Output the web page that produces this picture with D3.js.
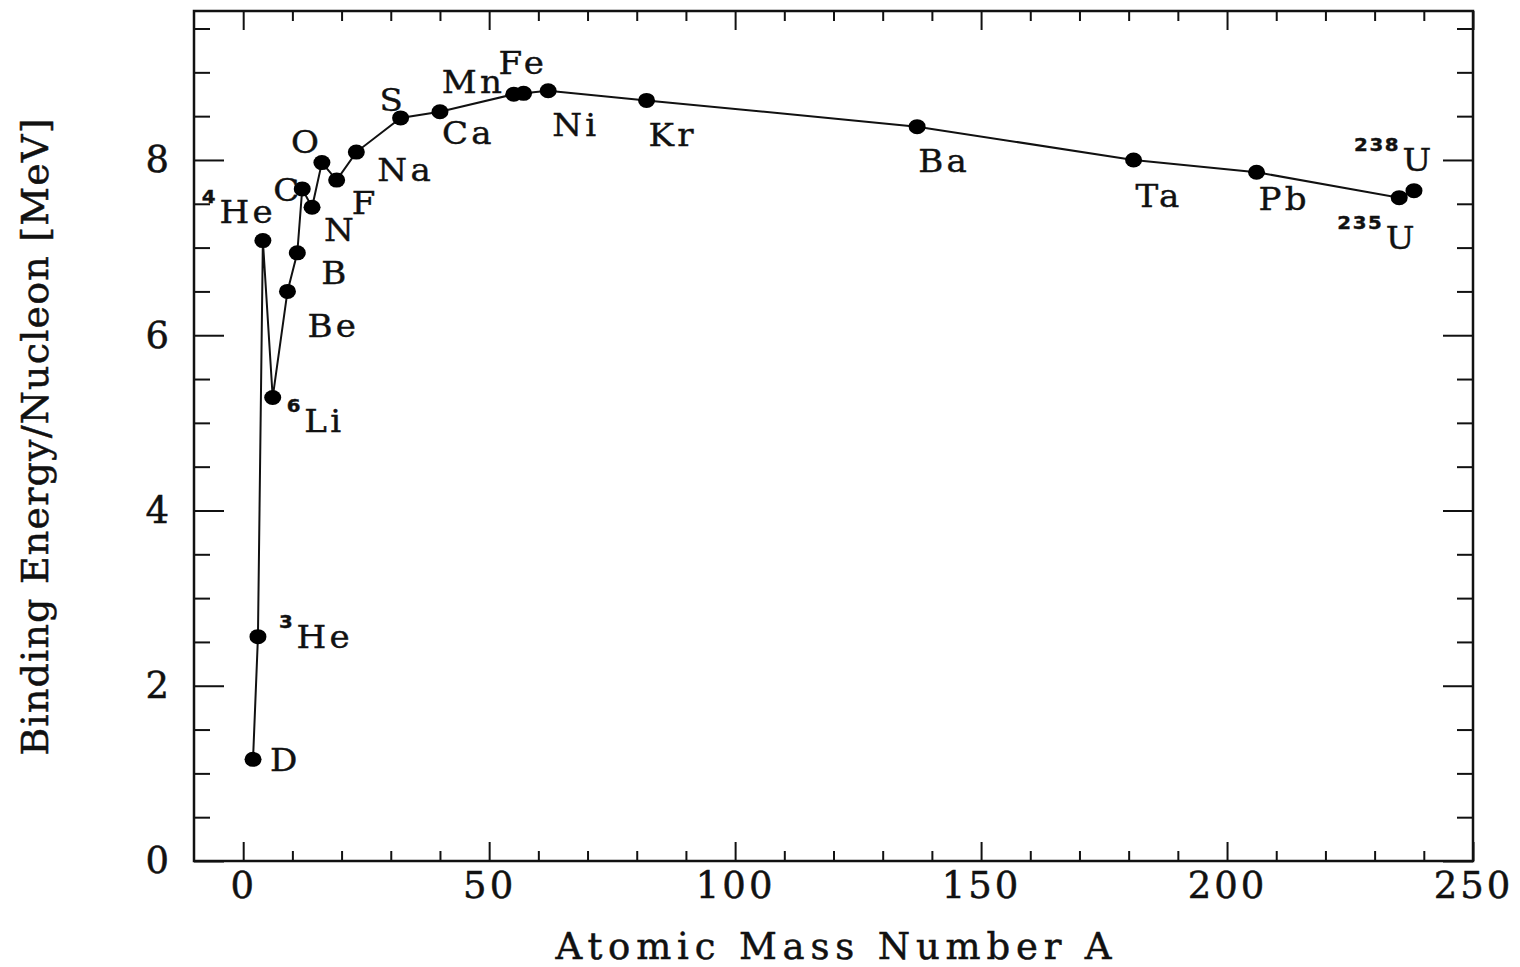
<!DOCTYPE html>
<html>
<head>
<meta charset="utf-8">
<script src="https://cdn.jsdelivr.net/npm/d3@7"></script>
<style>
  body { margin: 0; background: #fff; }
  svg { display: block; }
</style>
</head>
<body>
<svg id="chart" width="1520" height="967"></svg>
<script>
// nuclides, in order of mass number
const massNumbers = [2, 3, 4, 6, 9, 11, 12, 14, 16, 19, 23, 32, 40, 55, 57, 62, 82, 137, 181, 206, 235, 238];
const bindingEnergy = [1.16, 2.56, 7.08, 5.29, 6.50, 6.94, 7.67, 7.46, 7.97, 7.77, 8.09, 8.48, 8.55, 8.75, 8.76, 8.79, 8.68, 8.38, 8.00, 7.86, 7.57, 7.65];
const elementNames = ["D", "He", "He", "Li", "Be", "B", "C", "N", "O", "F", "Na", "S", "Ca", "Mn", "Fe", "Ni", "Kr", "Ba", "Ta", "Pb", "U", "U"];
const isotopeTags = ["", "3", "4", "6", "", "", "", "", "", "", "", "", "", "", "", "", "", "", "", "", "235", "238"];

const xMajorTicks = [0, 50, 100, 150, 200, 250];
const yMajorTicks = [0, 2, 4, 6, 8];

// where each label sits, relative to its dot (px)
const labelOffsets = [
  [17, 12], [21, 11], [-61, -18], [14, 35], [20, 46], [24, 31], [-29, 12], [12, 34],
  [-31, -10], [15, 34], [21, 29], [-21, -7], [2, 32], [-72, -1], [-25, -19], [4, 45],
  [2, 46], [1, 45], [2, 47], [2, 38], [-62, 51], [-60, -20]
];

const svg = d3.select("#chart");
const margin = { left: 194, right: 47, top: 11, bottom: 106 };
const width = 1520 - margin.left - margin.right;
const height = 967 - margin.top - margin.bottom;

const x = d3.scaleLinear().domain([-10, 250]).range([0, width]);
const y = d3.scaleLinear().domain([0, 9.7]).range([height, 0]);

const g = svg.append("g").attr("transform", `translate(${margin.left},${margin.top})`);

const serif = "'DejaVu Serif', 'Liberation Serif', serif";
const ink = "#111";

const xMinor = d3.range(0, 251, 10).filter(v => v % 50 !== 0);
const yMinor = d3.range(0, 9.7, 0.5).filter(v => v % 2 !== 0);

// ticks all point inward
const addAxis = (axis, transform) => {
  const a = g.append("g").attr("transform", transform).call(axis);
  a.select(".domain").remove();
  a.selectAll("line").attr("stroke", ink).attr("stroke-width", 2);
  return a;
};

addAxis(d3.axisBottom(x).tickValues(xMinor).tickSize(-10).tickFormat(""), `translate(0,${height})`);
const xAx = addAxis(d3.axisBottom(x).tickValues(xMajorTicks).tickSize(-19).tickPadding(11).tickFormat(d3.format("d")), `translate(0,${height})`);
addAxis(d3.axisTop(x).tickValues(xMinor).tickSize(-10).tickFormat(""), "translate(0,0)");
addAxis(d3.axisTop(x).tickValues(xMajorTicks).tickSize(-19).tickFormat(""), "translate(0,0)");

addAxis(d3.axisLeft(y).tickValues(yMinor).tickSize(-16).tickFormat(""), "translate(0,0)");
const yAx = addAxis(d3.axisLeft(y).tickValues(yMajorTicks).tickSize(-30).tickPadding(22).tickFormat(d3.format("d")), "translate(0,0)");
addAxis(d3.axisRight(y).tickValues(yMinor).tickSize(-16).tickFormat(""), `translate(${width},0)`);
addAxis(d3.axisRight(y).tickValues(yMajorTicks).tickSize(-30).tickFormat(""), `translate(${width},0)`);

[xAx, yAx].forEach(a => a.selectAll("text")
  .attr("font-family", serif)
  .attr("font-size", 37)
  .attr("fill", ink)
  .attr("stroke", ink)
  .attr("stroke-width", 0.5)
  .style("letter-spacing", "3px"));

// frame
g.append("rect")
  .attr("x", 0).attr("y", 0)
  .attr("width", width).attr("height", height)
  .attr("fill", "none")
  .attr("stroke", ink)
  .attr("stroke-width", 2.5);

const points = massNumbers.map((a, i) => ({
  a, be: bindingEnergy[i], name: elementNames[i], tag: isotopeTags[i], off: labelOffsets[i]
}));

const line = d3.line().x(d => x(d.a)).y(d => y(d.be));

g.append("path")
  .datum(points)
  .attr("d", line)
  .attr("fill", "none")
  .attr("stroke", ink)
  .attr("stroke-width", 2);

g.selectAll(".dot")
  .data(points)
  .join("ellipse")
  .attr("class", "dot")
  .attr("cx", d => x(d.a))
  .attr("cy", d => y(d.be))
  .attr("rx", 8.5)
  .attr("ry", 7.5)
  .attr("fill", "#000");

// labels drawn a bit wide, like the plotting font
const labels = g.selectAll(".lbl")
  .data(points)
  .join("text")
  .attr("class", "lbl")
  .attr("transform", d => `translate(${x(d.a) + d.off[0]},${y(d.be) + d.off[1]}) scale(1.1,1)`)
  .attr("fill", ink)
  .attr("stroke", ink)
  .attr("stroke-width", 0.4);

labels.filter(d => d.tag)
  .append("tspan")
  .attr("font-family", "'DejaVu Sans', sans-serif")
  .attr("font-weight", "bold")
  .attr("font-size", 18)
  .attr("dy", -20)
  .style("letter-spacing", "1.5px")
  .text(d => d.tag);

labels.append("tspan")
  .attr("font-family", serif)
  .attr("font-size", 31)
  .attr("dx", d => d.tag ? 2 : 0)
  .attr("dy", d => d.tag ? 20 : 0)
  .style("letter-spacing", "3px")
  .text(d => d.name);

// axis titles
svg.append("text")
  .attr("x", margin.left + width / 2)
  .attr("y", 959)
  .attr("text-anchor", "middle")
  .attr("font-family", serif)
  .attr("font-size", 37)
  .attr("fill", ink)
  .attr("stroke", ink)
  .attr("stroke-width", 0.5)
  .attr("textLength", 556)
  .attr("lengthAdjust", "spacing")
  .text("Atomic Mass Number A");

svg.append("text")
  .attr("transform", "translate(48,437) rotate(-90)")
  .attr("text-anchor", "middle")
  .attr("font-family", serif)
  .attr("font-size", 38)
  .attr("fill", ink)
  .attr("stroke", ink)
  .attr("stroke-width", 0.5)
  .attr("textLength", 637)
  .attr("lengthAdjust", "spacing")
  .text("Binding Energy/Nucleon [MeV]");
</script>
</body>
</html>
